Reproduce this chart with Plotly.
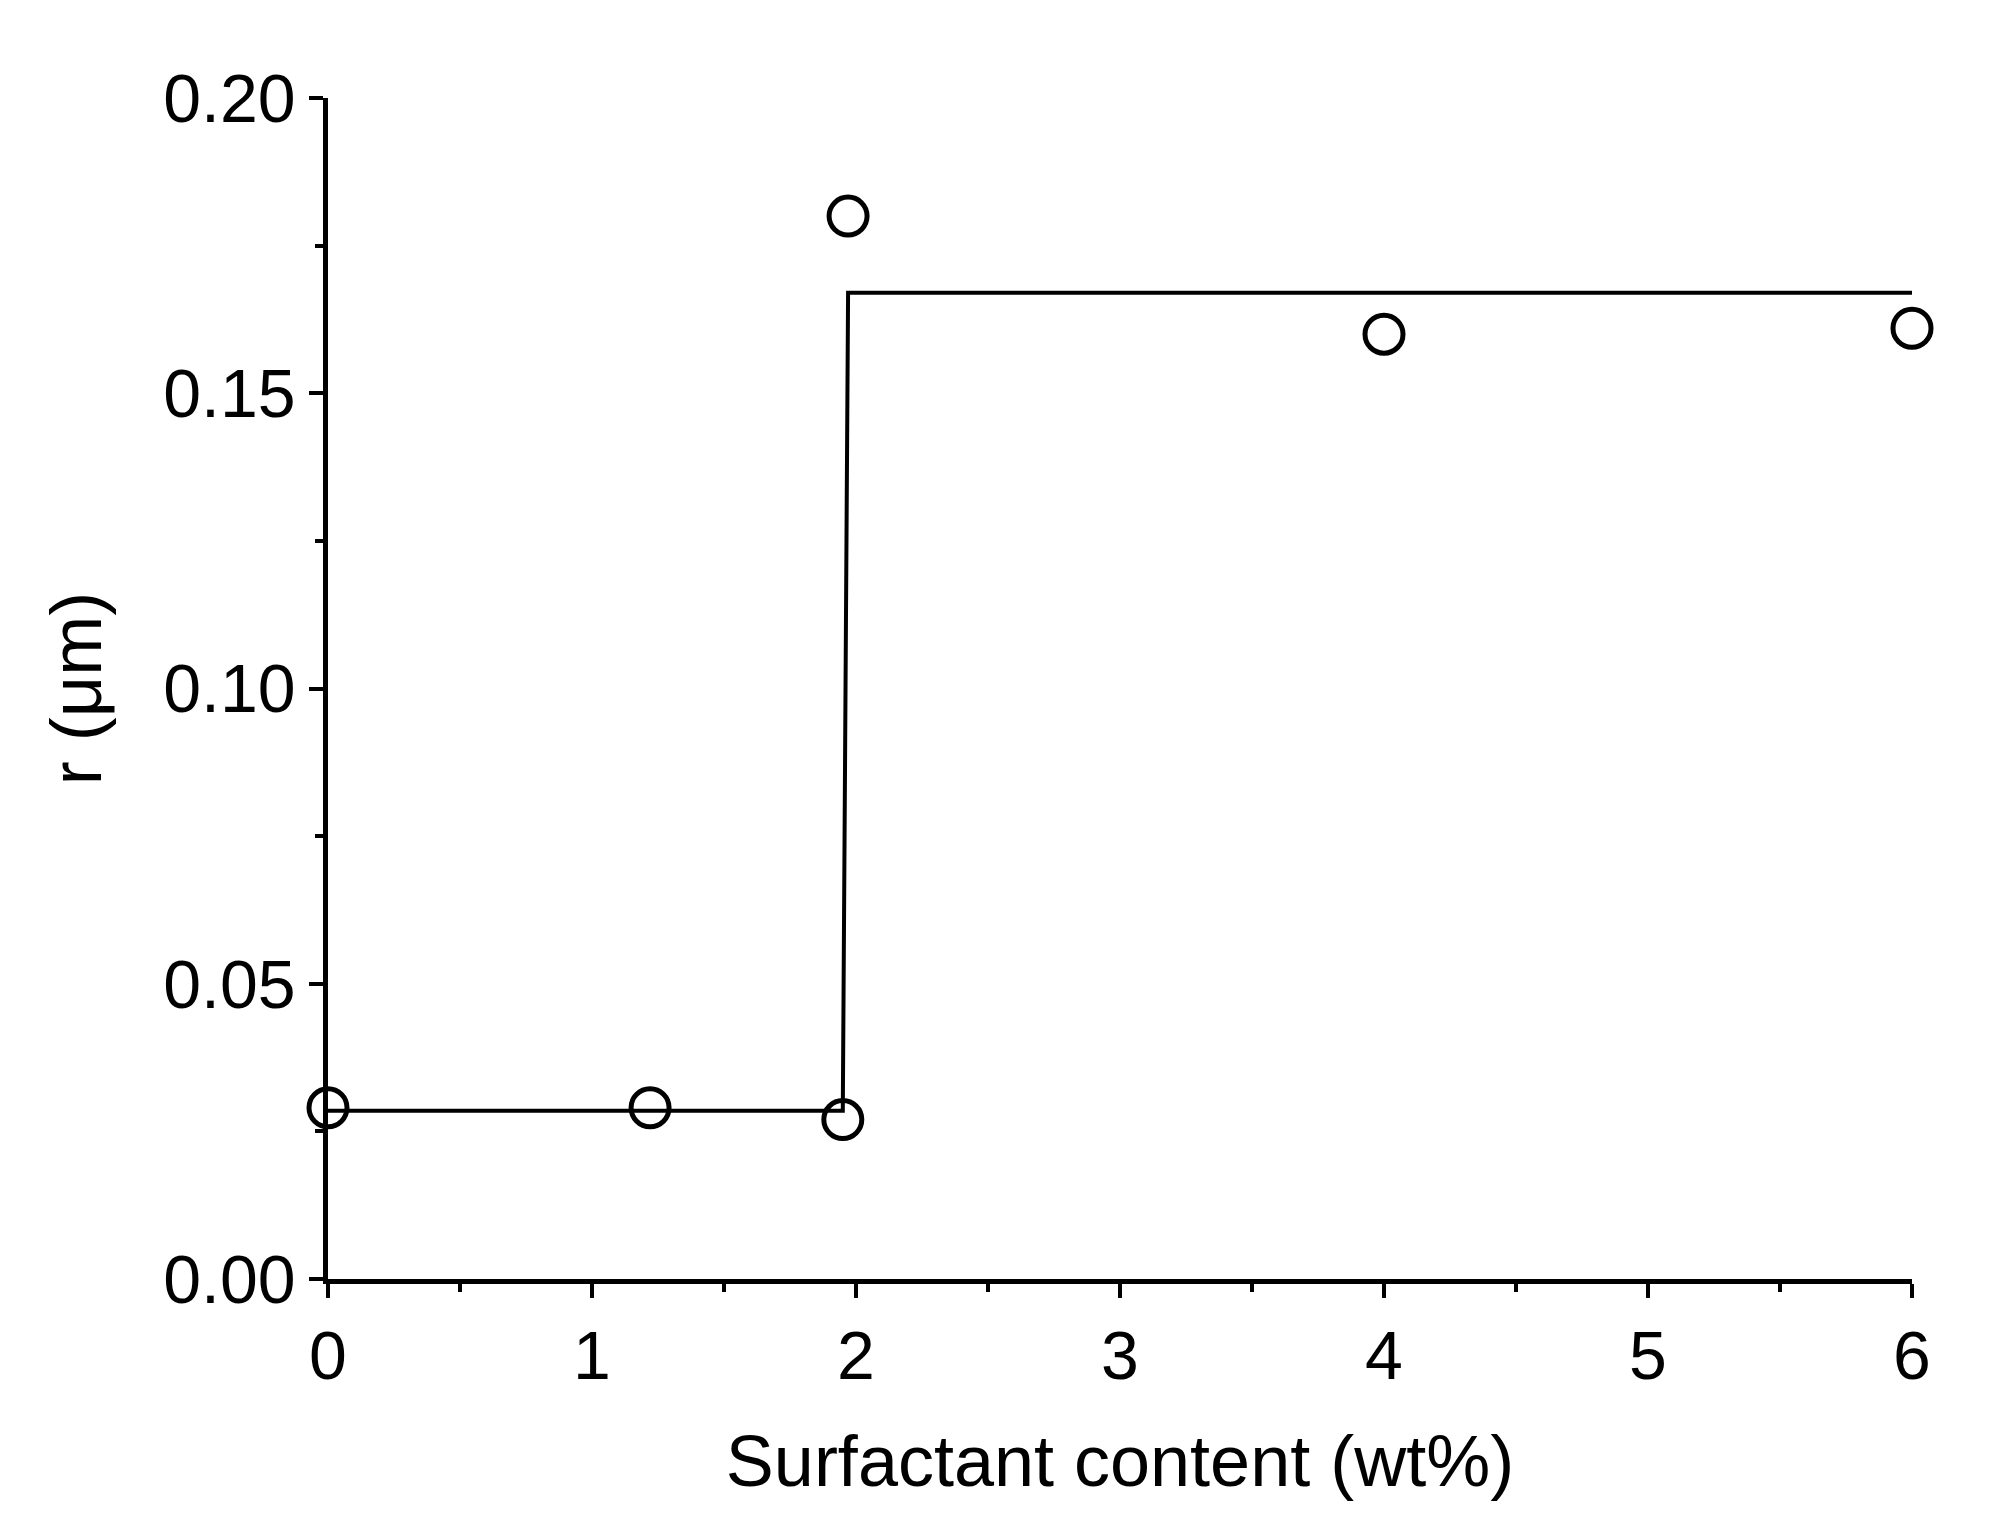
import plotly.graph_objects as go

pts_x = [0, 1.22, 1.95, 1.97, 4, 6]
pts_y = [0.029, 0.029, 0.027, 0.180, 0.160, 0.161]
fit_x = [0, 1.95, 1.97, 6]
fit_y = [0.0285, 0.0285, 0.167, 0.167]

fig = go.Figure()
fig.add_trace(go.Scatter(x=fit_x, y=fit_y, mode="lines", line=dict(color="black", width=4), cliponaxis=False))
fig.add_trace(go.Scatter(x=pts_x, y=pts_y, mode="markers", cliponaxis=False,
    marker=dict(symbol="circle-open", size=38, color="black", line=dict(width=5))))
font = dict(family="Liberation Sans, Arial", size=68, color="black")
tfont = dict(family="Liberation Sans, Arial", size=72, color="black")
common = dict(showgrid=False, zeroline=False, showline=True, linecolor="black", linewidth=4.5,
              ticks="outside", ticklen=14, tickwidth=4, tickcolor="black", tickfont=font,
              minor=dict(ticks="outside", ticklen=8, tickwidth=3.5, tickcolor="black"))
fig.update_xaxes(range=[0, 6], dtick=1, title=dict(text="Surfactant content (wt%)", font=tfont, standoff=45),
                 minor_dtick=0.5, **common)
fig.update_yaxes(range=[0, 0.2], dtick=0.05, tickformat=".2f", title=dict(text="r (μm)", font=tfont, standoff=40),
                 minor_dtick=0.025, **common)
fig.update_layout(width=2004, height=1536, plot_bgcolor="white", paper_bgcolor="white", showlegend=False,
                  margin=dict(l=320, r=100, t=90, b=265))
fig.write_html("out.html")
